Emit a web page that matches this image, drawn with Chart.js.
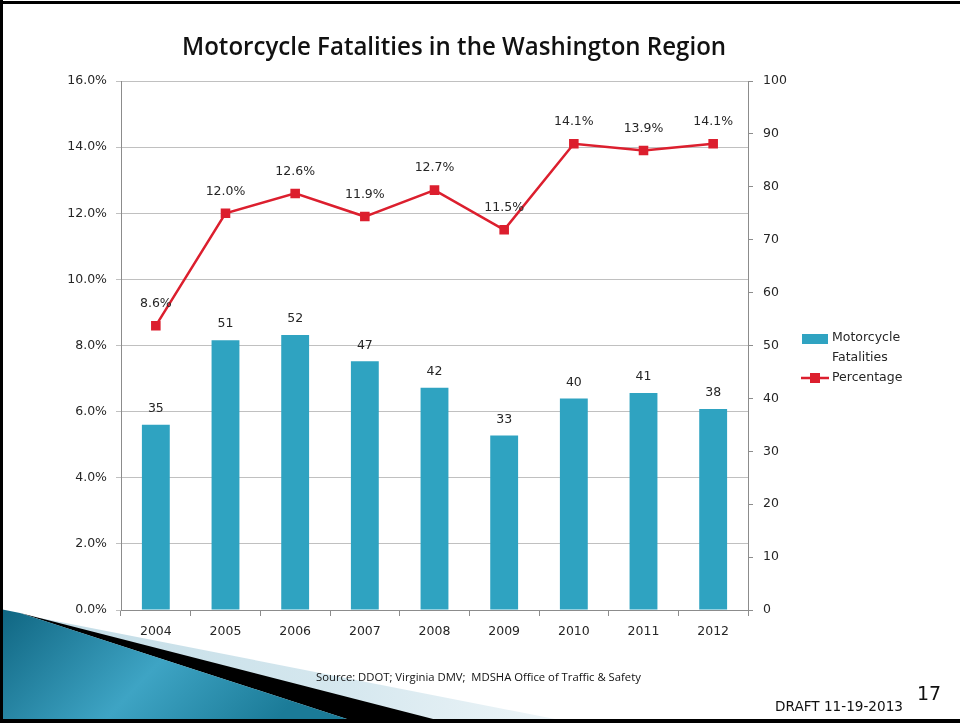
<!DOCTYPE html>
<html><head><meta charset="utf-8">
<script src="https://cdn.jsdelivr.net/npm/chart.js@4.4.1/dist/chart.umd.min.js"></script>
<style>
html,body{margin:0;padding:0;background:#fff;}
#wrap{position:relative;width:960px;height:723px;overflow:hidden;background:#fff;}
#deco{position:absolute;left:0;top:0;}
#c{position:absolute;left:0;top:0;}
.t{position:absolute;white-space:nowrap;color:#111;transform-origin:0 0;line-height:1;}
</style></head><body>
<div id="wrap">
<svg id="deco" width="960" height="723">
 <defs>
  <linearGradient id="lb" x1="0" y1="0" x2="1" y2="0">
   <stop offset="0" stop-color="#c2dce6"/><stop offset="0.6" stop-color="#d6e8ef"/><stop offset="1" stop-color="#eef5f8"/>
  </linearGradient>
  <linearGradient id="tl" x1="0" y1="0" x2="1" y2="0.3">
   <stop offset="0" stop-color="#0f6581"/><stop offset="0.55" stop-color="#3ea4c4"/><stop offset="1" stop-color="#1b7b98"/>
  </linearGradient>
 </defs>
 <polygon points="40,618 560,720 40,720" fill="url(#lb)"/>
 <polygon points="20,613 437,720 350,720" fill="#000"/>
 <polygon points="0,609 20,613 350,720 0,720" fill="url(#tl)"/>
 <rect x="0" y="1" width="960" height="3" fill="#000"/>
 <rect x="0" y="0" width="3" height="723" fill="#000"/>
 <rect x="0" y="719" width="960" height="4" fill="#000"/>
</svg>
<canvas id="c" width="960" height="723"></canvas>
<div class="t" id="title" style="font-family:'Open Sans';font-weight:600;font-size:25px;">Motorcycle Fatalities in the Washington Region</div>
<div class="t" id="src" style="font-family:'Open Sans';font-size:11px;">Source: DDOT; Virginia DMV;&nbsp; MDSHA Office of Traffic &amp; Safety</div>
<div class="t" id="draft" style="font-family:'DejaVu Sans';font-size:13.5px;">DRAFT 11-19-2013</div>
<div class="t" id="pg" style="font-family:'DejaVu Sans';font-size:19px;">17</div>
</div>
<script>
const years = ['2004','2005','2006','2007','2008','2009','2010','2011','2012'];
const fatalities = [35, 51, 52, 47, 42, 33, 40, 41, 38];
const percentages = [8.6, 12.0, 12.6, 11.9, 12.7, 11.5, 14.1, 13.9, 14.1];
const seriesNames = ['Motorcycle Fatalities', 'Percentage'];

const BAR = '#2fa3c1', RED = '#dc1f2e', GRID = '#c0c0c0', AXIS = '#8c8c8c', TXT = '#262626';
const FONT = {family: "'DejaVu Sans'", size: 12.5};

function place(id, x, yCenter, width) {
  const el = document.getElementById(id);
  const w = el.offsetWidth, h = el.offsetHeight;
  const s = width ? width / w : 1;
  el.style.left = x + 'px';
  el.style.top = (yCenter - h / 2) + 'px';
  el.style.transform = 'scaleX(' + s + ')';
}
place('title', 182, 45, 544);
place('src', 316, 676, 325);
place('draft', 775, 707, 128);
place('pg', 917, 693, 24);

const labelPlugin = {
  id: 'labels',
  afterDatasetsDraw(chart) {
    const ctx = chart.ctx;
    ctx.save();
    ctx.font = FONT.size + 'px ' + FONT.family;
    ctx.fillStyle = TXT;
    ctx.textAlign = 'center';
    ctx.textBaseline = 'middle';
    chart.getDatasetMeta(0).data.forEach((el, i) => {
      ctx.fillText(String(fatalities[i]), el.x, el.y - 16);
    });
    chart.getDatasetMeta(1).data.forEach((el, i) => {
      ctx.fillText(percentages[i].toFixed(1) + '%', el.x, el.y - 22);
    });
    ctx.restore();
  },
  afterDraw(chart) {
    const ctx = chart.ctx, a = chart.chartArea;
    const lx = a.right + 54;
    ctx.save();
    ctx.fillStyle = BAR;
    ctx.fillRect(lx, 334, 26, 10);
    ctx.strokeStyle = RED; ctx.lineWidth = 2.5;
    ctx.beginPath(); ctx.moveTo(lx - 1, 378); ctx.lineTo(lx + 27, 378); ctx.stroke();
    ctx.fillStyle = RED;
    ctx.fillRect(lx + 8, 373, 10, 10);
    ctx.font = FONT.size + 'px ' + FONT.family;
    ctx.fillStyle = TXT;
    ctx.textAlign = 'left'; ctx.textBaseline = 'middle';
    const parts = seriesNames[0].split(' ');
    ctx.fillText(parts[0], lx + 30, 338);
    ctx.fillText(parts[1], lx + 30, 358);
    ctx.fillText(seriesNames[1], lx + 30, 378);
    ctx.restore();
  }
};

new Chart(document.getElementById('c'), {
  data: {
    labels: years,
    datasets: [
      {type: 'bar', label: seriesNames[0], data: fatalities, yAxisID: 'y2', backgroundColor: BAR,
       barPercentage: 0.4, categoryPercentage: 1, order: 1},
      {type: 'line', label: seriesNames[1], data: percentages, yAxisID: 'y', borderColor: RED, backgroundColor: RED,
       borderWidth: 2.5, pointStyle: 'rect', pointRadius: 5, pointHoverRadius: 5, tension: 0, order: 0}
    ]
  },
  options: {
    responsive: false, animation: false, devicePixelRatio: 1,
    layout: {padding: {top: 81, left: 0, right: 152, bottom: 73}},
    plugins: {legend: {display: false}, tooltip: {enabled: false}, title: {display: false}},
    scales: {
      x: {
        grid: {offset: true, drawOnChartArea: false, drawTicks: true, tickLength: 6, color: AXIS},
        border: {color: AXIS},
        ticks: {font: FONT, color: TXT, padding: 8},
        afterFit(s) { s.height = 40; }
      },
      y: {
        position: 'left', min: 0, max: 16,
        ticks: {stepSize: 2, font: FONT, color: TXT, padding: 9, callback: v => v.toFixed(1) + '%'},
        grid: {color: GRID, tickLength: 5},
        border: {color: AXIS},
        afterFit(s) { s.width = 121; }
      },
      y2: {
        position: 'right', min: 0, max: 100,
        ticks: {stepSize: 10, font: FONT, color: TXT, padding: 10},
        grid: {drawOnChartArea: false, tickLength: 5, color: AXIS},
        border: {color: AXIS},
        afterFit(s) { s.width = 60; }
      }
    }
  },
  plugins: [labelPlugin]
});
</script>
</body></html>
